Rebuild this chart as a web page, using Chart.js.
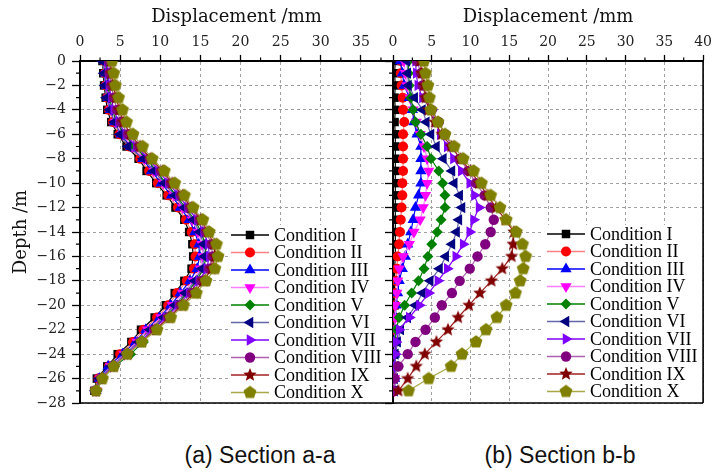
<!DOCTYPE html>
<html><head><meta charset="utf-8">
<script src="https://cdn.jsdelivr.net/npm/chart.js@4.4.0/dist/chart.umd.min.js"></script>
<style>
body{margin:0;background:#fff;width:716px;height:470px;position:relative;overflow:hidden}
#wa{position:absolute;left:0;top:0;width:400px;height:420px}
#wb{position:absolute;left:373px;top:0;width:343px;height:420px}
.cap{position:absolute;top:442px;font-family:"Liberation Sans",Arial,sans-serif;font-size:23px;color:#111;transform:translateX(-50%);white-space:nowrap;line-height:26px}
</style></head><body>
<div id="wa"><canvas id="ca" width="400" height="420"></canvas></div>
<div id="wb"><canvas id="cb" width="343" height="420"></canvas></div>
<div class="cap" style="left:260px">(a) Section a-a</div>
<div class="cap" style="left:560px">(b) Section b-b</div>
<script>
// ---------------- data ----------------
const depth = [0,-1,-2,-3,-4,-5,-6,-7,-8,-9,-10,-11,-12,-13,-14,-15,-16,-17,-18,-19,-20,-21,-22,-23,-24,-25,-26,-27];
const conditionNames = ['Condition I','Condition II','Condition III','Condition IV','Condition V','Condition VI','Condition VII','Condition VIII','Condition IX','Condition X'];
const xTicksA = [0,5,10,15,20,25,30,35];
const xTicksB = [0,5,10,15,20,25,30,35,40];
const yTicks = [0,-2,-4,-6,-8,-10,-12,-14,-16,-18,-20,-22,-24,-26,-28];

// Section a-a displacement (mm) per condition
const secA_I    = [2.8,2.9,3.0,3.2,3.4,3.9,4.7,5.8,7.3,8.3,9.5,10.8,11.9,13.0,13.6,14.0,14.1,13.9,13.0,11.8,10.7,9.3,7.6,6.4,4.7,3.4,2.1,1.8];
const secA_II   = [3.0,3.1,3.2,3.4,3.6,4.1,4.9,6.1,7.5,8.6,9.7,11.0,12.2,13.2,13.9,14.3,14.4,14.2,13.3,12.1,11.0,9.6,7.9,6.6,5.0,3.6,2.3,1.9];
const secA_III  = [3.1,3.2,3.3,3.5,3.8,4.3,5.1,6.3,7.8,8.9,10.1,11.4,12.5,13.6,14.3,14.8,14.9,14.6,13.7,12.5,11.3,9.9,8.2,6.9,5.3,3.5,2.4,2.0];
const secA_IV   = [3.2,3.3,3.4,3.6,3.9,4.4,5.3,6.5,8.0,9.2,10.4,11.7,12.8,14.0,14.7,15.2,15.3,15.0,14.1,12.8,11.5,10.1,8.4,7.1,5.5,3.8,2.5,2.0];
const secA_V    = [3.3,3.4,3.5,3.7,4.0,4.6,5.5,6.8,8.3,9.5,10.7,12.0,13.1,14.3,15.1,15.6,15.7,15.4,14.5,13.3,12.0,10.6,9.0,7.9,6.3,4.3,2.8,2.1];
const secA_VI   = [2.8,3.0,3.1,3.3,3.7,4.3,5.0,6.0,7.9,9.2,10.5,11.8,13.0,14.1,14.9,15.4,15.5,15.2,14.3,13.1,11.8,10.4,8.7,7.3,5.6,3.9,2.4,1.9];
const secA_VII  = [3.4,3.5,3.6,3.9,4.2,4.8,5.7,7.0,8.5,9.8,11.0,12.3,13.4,14.6,15.4,16.0,16.1,15.8,14.8,13.6,12.2,10.7,9.0,7.5,5.8,4.1,2.6,2.0];
const secA_VIII = [3.6,3.7,3.9,4.2,4.6,5.1,6.0,7.3,8.7,10.1,11.3,12.6,13.7,14.9,15.7,16.4,16.5,16.1,15.1,13.9,12.5,11.0,9.3,7.6,5.9,4.2,2.7,2.0];
const secA_IX   = [3.8,3.9,4.1,4.5,4.9,5.4,6.3,7.5,8.8,10.3,11.5,12.8,13.9,15.1,15.9,16.7,16.8,16.4,15.4,14.2,12.7,11.1,9.4,7.7,5.9,4.2,2.7,2.0];
const secA_X    = [4.0,4.2,4.4,4.8,5.3,5.8,6.6,7.8,9.0,10.5,11.8,13.0,14.1,15.3,16.1,17.0,17.2,16.8,15.7,14.5,12.9,11.3,9.6,7.7,5.9,4.2,2.8,2.0];

// Section b-b displacement (mm) per condition
const secB_I    = [0.3,0.2,0.3,0.2,0.3,0.2,0.3,0.3,0.3,0.3,0.3,0.3,0.3,0.3,0.3,0.3,0.3,0.2,0.2,0.2,0.2,0.2,0.2,0.2,0.1,0.1,0.1,0.1];
const secB_II   = [1.0,1.0,1.1,1.25,1.3,1.45,1.3,1.3,1.3,1.3,1.2,1.2,1.1,1.0,0.9,0.8,0.6,0.5,0.4,0.3,0.3,0.2,0.2,0.2,0.2,0.2,0.1,0.1];
const secB_III  = [0.95,1.2,1.45,2.1,2.5,2.7,3.1,3.6,3.6,3.6,3.6,3.3,2.9,2.6,2.3,1.9,1.6,1.2,0.8,0.6,0.4,0.3,0.3,0.2,0.2,0.2,0.2,0.2];
const secB_IV   = [1.4,1.6,1.8,2.2,2.6,3.0,3.5,4.0,4.4,4.6,4.4,4.2,3.9,3.5,2.7,2.1,1.3,0.8,0.6,0.5,0.3,0.3,0.3,0.3,0.2,0.3,0.2,0.2];
const secB_V    = [2.0,2.0,2.1,2.3,2.6,2.9,3.6,4.4,4.9,5.9,6.4,6.7,6.7,6.2,5.7,5.0,4.5,4.0,3.3,2.4,1.5,0.8,0.4,0.3,0.3,0.2,0.2,0.2];
const secB_VI   = [1.8,1.9,2.0,2.8,3.8,4.3,4.9,5.6,6.5,7.6,7.9,8.6,8.9,8.5,8.2,7.6,6.8,6.0,4.8,3.8,2.9,1.9,1.0,0.6,0.3,0.3,0.2,0.2];
const secB_VII  = [2.9,3.0,3.2,3.8,5.0,5.5,6.1,7.0,7.8,8.8,9.9,10.5,11.1,10.4,9.9,9.05,8.1,7.0,5.8,4.6,3.4,2.1,0.8,0.4,0.3,0.2,0.2,0.2];
const secB_VIII = [3.1,3.6,3.8,4.2,5.0,5.9,6.7,7.6,8.6,9.7,10.7,11.8,12.6,13.0,12.6,11.9,10.9,9.9,8.6,7.6,6.3,5.4,4.2,2.9,1.9,0.7,0.2,0.1];
const secB_IX   = [3.5,3.7,4.0,4.2,4.6,5.4,6.3,7.5,8.7,10.0,11.1,12.2,13.3,14.5,15.6,15.5,15.3,14.1,12.7,11.2,9.8,8.4,7.1,5.6,4.1,3.0,1.9,0.7];
const secB_X    = [4.0,4.2,4.5,4.7,4.9,5.8,6.7,7.9,9.05,10.4,11.4,12.6,13.8,14.6,15.9,16.7,17.1,16.8,16.4,15.8,14.6,13.4,12.0,10.7,8.9,7.5,4.6,2.0];

const seriesA = [secA_I,secA_II,secA_III,secA_IV,secA_V,secA_VI,secA_VII,secA_VIII,secA_IX,secA_X];
const seriesB = [secB_I,secB_II,secB_III,secB_IV,secB_V,secB_VI,secB_VII,secB_VIII,secB_IX,secB_X];

// ---------------- styles ----------------
function shapeCanvas(kind, color, r){
  const s = Math.ceil(r*2)+2, c = document.createElement('canvas');
  c.width = s; c.height = s;
  const g = c.getContext('2d'); g.fillStyle = color; g.beginPath();
  const cx = s/2, cy = s/2;
  if (kind === 'star'){
    for (let k=0;k<10;k++){ const rr = k%2? r*0.45 : r; const a = -Math.PI/2 + k*Math.PI/5;
      const px = cx + rr*Math.cos(a), py = cy + rr*Math.sin(a); k? g.lineTo(px,py) : g.moveTo(px,py); }
  } else {
    for (let k=0;k<5;k++){ const a = -Math.PI/2 + k*2*Math.PI/5;
      const px = cx + r*Math.cos(a), py = cy + r*Math.sin(a); k? g.lineTo(px,py) : g.moveTo(px,py); }
  }
  g.closePath(); g.fill();
  return c;
}
const starImg = shapeCanvas('star', '#800000', 7);
const pentImg = shapeCanvas('pent', '#808000', 6.8);

const styles = [
  {marker:'#000000', line:'#000000', ps:'rect', rot:0, r:6},
  {marker:'#ff0000', line:'#ff8080', ps:'circle', rot:0, r:5},
  {marker:'#0000ff', line:'#0000ff', ps:'triangle', rot:0, r:6.5},
  {marker:'#ff00ff', line:'#ff80ff', ps:'triangle', rot:180, r:6.5},
  {marker:'#008000', line:'#008000', ps:'rectRot', rot:0, r:5.5},
  {marker:'#000080', line:'#6666aa', ps:'triangle', rot:270, r:6.5},
  {marker:'#8000ff', line:'#8000ff', ps:'triangle', rot:90, r:6.5},
  {marker:'#800080', line:'#b060b0', ps:'circle', rot:0, r:5.2},
  {marker:'#800000', line:'#a02020', ps:starImg, rot:0, r:7},
  {marker:'#808000', line:'#a8a848', ps:pentImg, rot:0, r:7}
];

function buildDatasets(series){
  return series.map((vals,i)=>({
    label: conditionNames[i],
    data: vals.map((v,j)=>({x:v, y:depth[j]})),
    showLine:true,
    borderColor: styles[i].line,
    borderWidth: 1.2,
    backgroundColor: styles[i].marker,
    pointBackgroundColor: styles[i].marker,
    pointBorderWidth: 0,
    pointStyle: styles[i].ps,
    pointRotation: styles[i].rot,
    pointRadius: styles[i].r,
    order: 9 - i
  }));
}

const fmt = v => (v < 0 ? '\u2212' + Math.abs(v) : String(v));
const tickFont = {family:'"DejaVu Serif", serif', size:14};
const titleFont = {family:'"DejaVu Serif", serif', size:18};

const decor = {
  id:'decor',
  afterDatasetsDraw(chart, args, o){
    const {ctx, chartArea:a} = chart;
    ctx.save();
    ctx.fillStyle = '#fff';
    ctx.fillRect(a.left + o.boxX, a.top + o.boxY, a.right - 1 - (a.left + o.boxX), a.bottom - 1 - (a.top + o.boxY));
    const x0 = a.left + o.lineX, x1 = x0 + 38;
    chart.data.datasets.forEach((ds,i)=>{
      const y = a.top + o.rowY + i*o.rowH;
      ctx.strokeStyle = ds.borderColor; ctx.lineWidth = 1.5;
      ctx.beginPath(); ctx.moveTo(x0,y); ctx.lineTo(x1,y); ctx.stroke();
      ctx.fillStyle = ds.pointBackgroundColor; ctx.strokeStyle = ds.pointBackgroundColor;
      Chart.helpers.drawPoint(ctx, {pointStyle: ds.pointStyle, rotation: ds.pointRotation, radius: ds.pointRadius, borderWidth:0}, (x0+x1)/2, y);
      ctx.fillStyle = '#000'; ctx.font = '18px "Liberation Serif", serif'; ctx.textBaseline = 'middle'; ctx.textAlign='left';
      ctx.fillText(ds.label, x1 + 5, y + 1);
    });
    ctx.restore();
  },
  afterDraw(chart){
    const {ctx, chartArea:a, scales:{x,y}} = chart;
    ctx.save();
    ctx.strokeStyle = '#000';
    ctx.lineWidth = 1.2;
    ctx.beginPath();
    for (let v = 2.5; v < x.max; v += 5){ const px = x.getPixelForValue(v); ctx.moveTo(px, a.top); ctx.lineTo(px, a.top - 3.5); }
    for (let v = -1; v > y.min; v -= 2){ const py = y.getPixelForValue(v); ctx.moveTo(a.left, py); ctx.lineTo(a.left - 4, py); }
    ctx.stroke();
    ctx.lineWidth = 1.6;
    ctx.beginPath();
    ctx.moveTo(a.left, a.bottom); ctx.lineTo(a.right, a.bottom);
    ctx.moveTo(a.right, a.top); ctx.lineTo(a.right, a.bottom);
    ctx.stroke();
    ctx.restore();
  }
};

function makeChart(id, series, xMax, xTicks, showY, yWidth, padRight, legendOpts){
  return new Chart(document.getElementById(id), {
    type:'scatter',
    data:{datasets: buildDatasets(series)},
    plugins:[decor],
    options:{
      responsive:false, animation:false,
      layout:{padding:{top:0,left:0,right:padRight,bottom:17}},
      plugins:{legend:{display:false}, tooltip:{enabled:false}, decor: legendOpts},
      scales:{
        x:{type:'linear', position:'top', min:0, max:xMax,
          afterBuildTicks: s => { s.ticks = xTicks.map(v=>({value:v})); },
          afterFit: s => { s.height = 61; },
          ticks:{font:tickFont, color:'#222', padding:4, maxRotation:0, autoSkip:false},
          grid:{color:'#a0a0a0', lineWidth:1, tickColor:'#000', tickLength:6, tickWidth:1.3},
          border:{color:'#000', width:2, dash:[3,3]},
          title:{display:true, text:'Displacement /mm', font:titleFont, color:'#111', padding:{top:7,bottom:0}}
        },
        y:{type:'linear', position:'left', min:-28, max:0,
          afterBuildTicks: s => { s.ticks = yTicks.map(v=>({value:v})); },
          afterFit: s => { s.width = yWidth; },
          ticks:{display:showY, font:tickFont, color:'#222', padding:6, callback: v => fmt(v), autoSkip:false},
          grid:{color:'#a0a0a0', lineWidth:1, tickColor:'#000', tickLength:8, tickWidth:1.3},
          border:{color:'#000', width:2, dash:[3,3]},
          title:{display:showY, text:'Depth /m', font:titleFont, color:'#111', padding:{top:11,bottom:0}}
        }
      }
    }
  });
}

makeChart('ca', seriesA, 39, xTicksA, true, 80, 7, {boxX:148, boxY:164, lineX:151, rowY:174, rowH:17.5});
makeChart('cb', seriesB, 40, xTicksB, false, 20, 8, {boxX:150, boxY:164, lineX:154, rowY:173, rowH:17.5});
</script>
</body></html>
